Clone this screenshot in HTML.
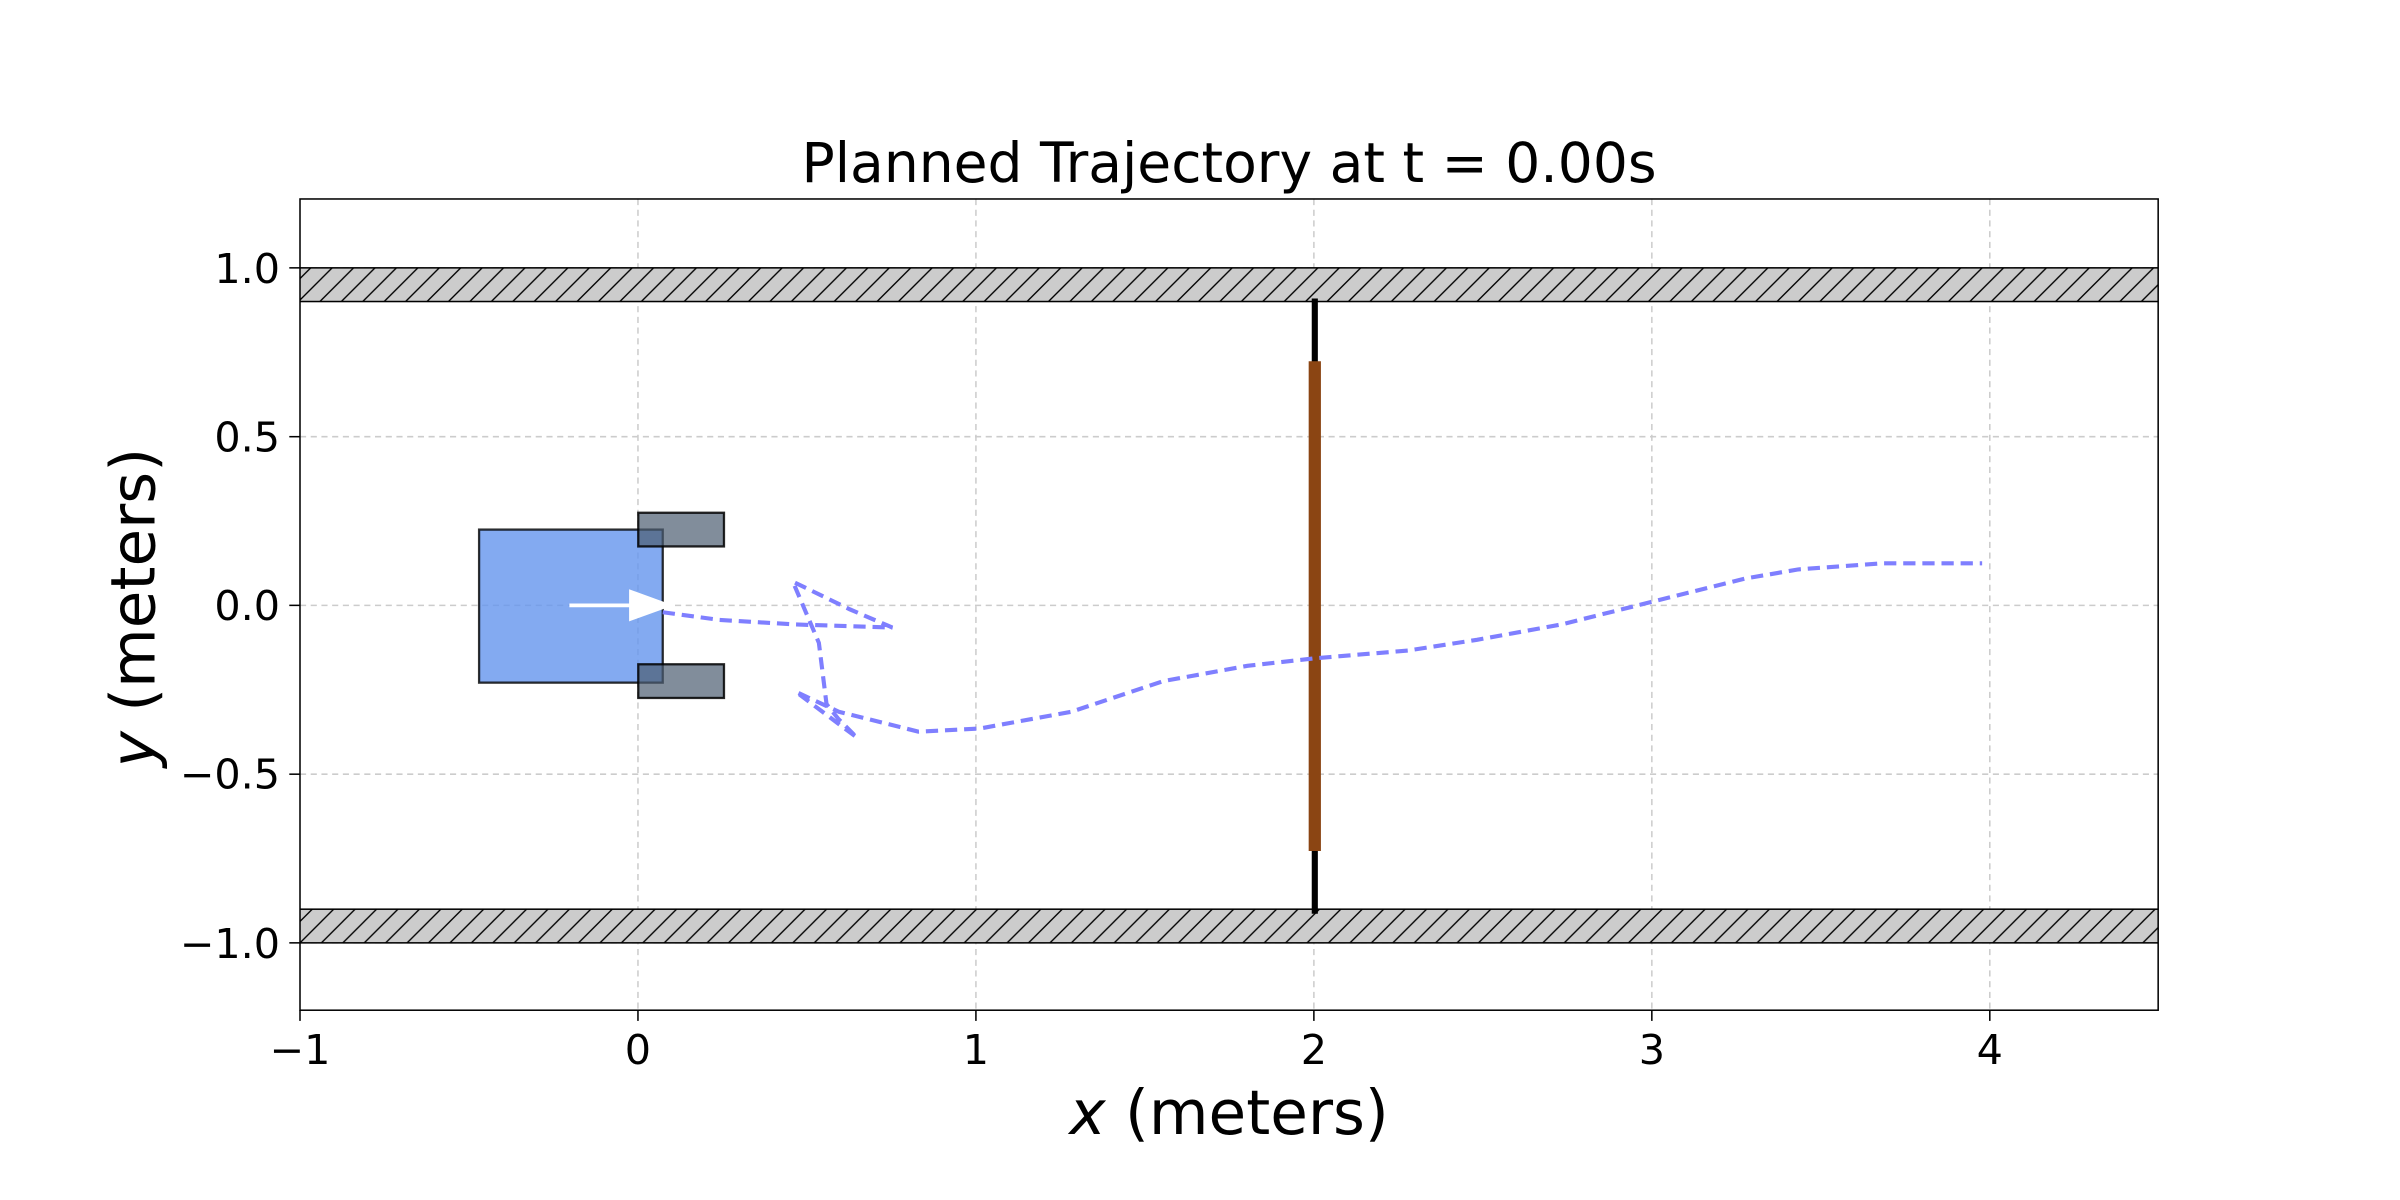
<!DOCTYPE html>
<html><head><meta charset="utf-8"><style>html,body{margin:0;padding:0;background:#fff}svg{display:block}</style></head>
<body>
<svg width="2400" height="1200" viewBox="0 0 1568 784" xmlns="http://www.w3.org/2000/svg" font-family="'DejaVu Sans','Liberation Sans',sans-serif">
<defs>
<pattern id="h" patternUnits="userSpaceOnUse" width="14" height="14">
<rect width="14" height="14" fill="#cccccc"/>
<path d="M-2,16 L16,-2 M-9,9 L9,-9 M5,23 L23,5" stroke="#000" stroke-width="0.9"/>
</pattern>
<clipPath id="c"><rect x="196" y="130" width="1214" height="530"/></clipPath>
</defs>
<g stroke="#cccccc" stroke-width="1" stroke-dasharray="4,3">
<line x1="416.8" y1="130" x2="416.8" y2="660"/><line x1="637.6" y1="130" x2="637.6" y2="660"/>
<line x1="858.4" y1="130" x2="858.4" y2="660"/><line x1="1079.2" y1="130" x2="1079.2" y2="660"/>
<line x1="1300" y1="130" x2="1300" y2="660"/>
<line x1="196" y1="175" x2="1410" y2="175"/><line x1="196" y1="285.3" x2="1410" y2="285.3"/>
<line x1="196" y1="395.5" x2="1410" y2="395.5"/><line x1="196" y1="505.8" x2="1410" y2="505.8"/>
<line x1="196" y1="616" x2="1410" y2="616"/>
</g>
<g clip-path="url(#c)">
<rect x="190" y="175" width="1230" height="22" fill="url(#h)" stroke="#000" stroke-width="1"/>
<rect x="190" y="594" width="1230" height="22" fill="url(#h)" stroke="#000" stroke-width="1"/>
</g>
<line x1="859" y1="195" x2="859" y2="597" stroke="#000" stroke-width="4"/>
<line x1="859" y1="236" x2="859" y2="556" stroke="#8B4513" stroke-width="8"/>
<rect x="313" y="346" width="120" height="100" fill="#6495ED" fill-opacity="0.8" stroke="#000" stroke-opacity="0.8" stroke-width="1.5"/>
<rect x="417" y="335" width="56" height="22" fill="#4c5c70" fill-opacity="0.7" stroke="#000" stroke-opacity="0.85" stroke-width="1.5"/>
<rect x="417" y="434" width="56" height="22" fill="#4c5c70" fill-opacity="0.7" stroke="#000" stroke-opacity="0.85" stroke-width="1.5"/>
<line x1="372" y1="395.5" x2="414" y2="395.5" stroke="#fff" stroke-width="2.5"/>
<polygon points="411,385 440,395.5 411,406" fill="#fff"/>
<polyline fill="none" stroke="#7f7fff" stroke-width="2.7" stroke-dasharray="8,4.5" points="433,400 470,405 520,408 583,410 555,398 518,380 535,420 540,460 548,470 560,482 520,452 548,465 600,478 640,476 700,465 760,445 815,435 860,430 920,425 965,418 1020,408 1080,393 1140,378 1175,372 1230,368 1295,368"/>
<rect x="196" y="130" width="1214" height="530" fill="none" stroke="#000" stroke-width="1"/>
<g stroke="#000" stroke-width="1">
<line x1="196" y1="660" x2="196" y2="667"/><line x1="416.8" y1="660" x2="416.8" y2="667"/><line x1="637.6" y1="660" x2="637.6" y2="667"/>
<line x1="858.4" y1="660" x2="858.4" y2="667"/><line x1="1079.2" y1="660" x2="1079.2" y2="667"/><line x1="1300" y1="660" x2="1300" y2="667"/>
<line x1="189" y1="175" x2="196" y2="175"/><line x1="189" y1="285.3" x2="196" y2="285.3"/><line x1="189" y1="395.5" x2="196" y2="395.5"/>
<line x1="189" y1="505.8" x2="196" y2="505.8"/><line x1="189" y1="616" x2="196" y2="616"/>
</g>
<g font-size="27" text-anchor="middle">
<text x="196" y="695">−1</text><text x="416.8" y="695">0</text><text x="637.6" y="695">1</text>
<text x="858.4" y="695">2</text><text x="1079.2" y="695">3</text><text x="1300" y="695">4</text>
</g>
<g font-size="27" text-anchor="end">
<text x="183" y="185">1.0</text><text x="183" y="295">0.5</text><text x="183" y="405">0.0</text>
<text x="183" y="515">−0.5</text><text x="183" y="626">−1.0</text>
</g>
<text x="803" y="119" font-size="36" text-anchor="middle">Planned Trajectory at t = 0.00s</text>
<text x="803" y="741" font-size="40" text-anchor="middle"><tspan font-style="italic">x</tspan> (meters)</text>
<text transform="translate(101,397) rotate(-90)" font-size="40" text-anchor="middle"><tspan font-style="italic">y</tspan> (meters)</text>
</svg>
</body></html>
